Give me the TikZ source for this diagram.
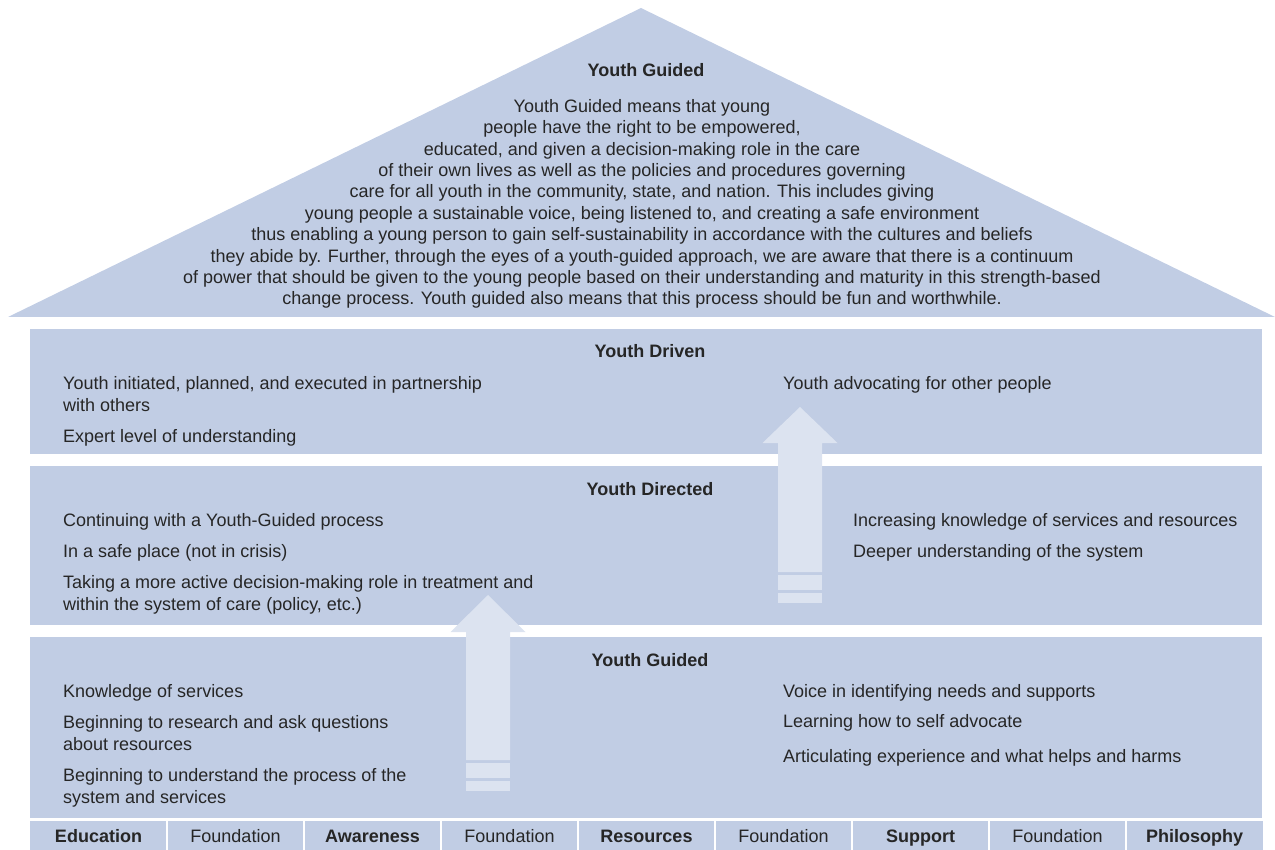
\documentclass[tikz,border=0pt]{standalone}
\usepackage{fontspec}
\setmainfont{Liberation Sans}
\definecolor{band}{RGB}{193,205,228}
\definecolor{liftfill}{RGB}{220,227,240}
\definecolor{ink}{RGB}{38,38,38}
\tikzset{
  bandtitle/.style={font=\fontsize{18}{20}\selectfont\bfseries, text=ink, inner sep=0pt, anchor=base},
  item/.style={font=\fontsize{18}{21.5}\selectfont, text=ink, inner sep=0pt, anchor=base west, align=left},
  roofpara/.style={font=\fontsize{18}{21.4}\selectfont, text=ink, inner sep=0pt, anchor=base, align=center},
  cellbold/.style={font=\fontsize{18}{20}\selectfont\bfseries, text=ink, inner sep=0pt, anchor=base},
  cellplain/.style={font=\fontsize{18}{20}\selectfont, text=ink, inner sep=0pt, anchor=base}
}
% #1 centre x, #2 tip y, #3 head base y, #4 shaft end y
\newcommand{\liftarrow}[4]{%
  \fill[liftfill] (#1,#2) -- ({#1+37.5},#3) -- ({#1+22},#3) -- ({#1+22},#4) -- ({#1-22},#4) -- ({#1-22},#3) -- ({#1-37.5},#3) -- cycle;
  \fill[liftfill] ({#1-22},{#4+3}) rectangle ({#1+22},{#4+18});
  \fill[liftfill] ({#1-22},{#4+21}) rectangle ({#1+22},{#4+31});
}
\begin{document}
\begin{tikzpicture}[x=1pt,y=-1pt]
\pgfmathsetmacro{\lx}{63}
\useasboundingbox (0,0) rectangle (1275,850);
% roof and bands
\fill[band] (8,317) -- (641,8) -- (1275,317) -- cycle;
\fill[band] (30,329) rectangle (1262,454);
\fill[band] (30,466) rectangle (1262,625);
\fill[band] (30,637) rectangle (1262,818);
\fill[band] (30,821) rectangle (1263,850);
\foreach \i in {1,...,8} \draw[white, line width=2pt] ({30+137*\i},821) -- ({30+137*\i},850);
% arrows
\liftarrow{488}{595}{632}{760}
\liftarrow{800}{407}{443}{572}
% roof (multi-line nodes sit on their last baseline)
\node[bandtitle] (rooftitle) at (646,77) {Youth Guided};
\node[roofpara] (rooftext) at (642,305) {Youth Guided means that young\\
people have the right to be empowered,\\
educated, and given a decision-making role in the care\\
of their own lives as well as the policies and procedures governing\\
care for all youth in the community, state, and nation. This includes giving\\
young people a sustainable voice, being listened to, and creating a safe environment\\
thus enabling a young person to gain self-sustainability in accordance with the cultures and beliefs\\
they abide by. Further, through the eyes of a youth-guided approach, we are aware that there is a continuum\\
of power that should be given to the young people based on their understanding and maturity in this strength-based\\
change process. Youth guided also means that this process should be fun and worthwhile.};
% youth driven
\node[bandtitle] (drvtitle) at (650,358) {Youth Driven};
\node[item] (drv1) at (\lx,411) {Youth initiated, planned, and executed in partnership\\with others};
\node[item] (drv2) at (\lx,442) {Expert level of understanding};
\node[item] (drv3) at (783,389) {Youth advocating for other people};
% youth directed
\node[bandtitle] (dirtitle) at (650,495) {Youth Directed};
\node[item] (dir1) at (\lx,526) {Continuing with a Youth-Guided process};
\node[item] (dir2) at (\lx,557) {In a safe place (not in crisis)};
\node[item] (dir3) at (\lx,610) {Taking a more active decision-making role in treatment and\\within the system of care (policy, etc.)};
\node[item] (dir4) at (853,526) {Increasing knowledge of services and resources};
\node[item] (dir5) at (853,557) {Deeper understanding of the system};
% youth guided
\node[bandtitle] (gdtitle) at (650,666) {Youth Guided};
\node[item] (gd1) at (\lx,697) {Knowledge of services};
\node[item] (gd2) at (\lx,750) {Beginning to research and ask questions\\about resources};
\node[item] (gd3) at (\lx,803) {Beginning to understand the process of the\\system and services};
\node[item] (gd4) at (783,697) {Voice in identifying needs and supports};
\node[item] (gd5) at (783,727) {Learning how to self advocate};
\node[item] (gd6) at (783,762) {Articulating experience and what helps and harms};
% foundation row
\foreach \lbl/\sty [count=\k from 0] in {Education/cellbold, Foundation/cellplain, Awareness/cellbold, Foundation/cellplain, Resources/cellbold, Foundation/cellplain, Support/cellbold, Foundation/cellplain, Philosophy/cellbold}
  \node[\sty] (cell\k) at ({98.5+137*\k},842) {\lbl};
\end{tikzpicture}
\end{document}
